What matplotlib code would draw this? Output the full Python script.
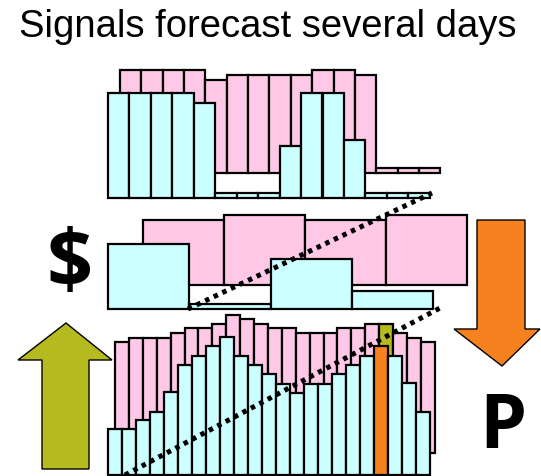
import matplotlib
matplotlib.use("Agg")
import matplotlib.pyplot as plt
from matplotlib.patches import Polygon

PINK = "#FFC8E6"
CYAN = "#CCFFFF"
OLIVE = "#B5BA1F"
ORANGE = "#F5821F"

# top panel: bar heights in pixels
top_cyan = [105, 105, 105, 105, 95, 5, 5, 5, 52, 105, 105, 58, 5, 5, 5]
top_pink = [103, 103, 103, 103, 93, 98, 98, 98, 98, 103, 103, 98, 5, 5, 5]

# middle panel
mid_cyan = [65, 5, 50, 18]
mid_pink = [65, 70, 65, 70]

# bottom panel
bot_cyan = [46, 46, 55, 63, 83, 110, 119, 129, 138, 119, 110, 101,
            91, 82, 91, 91, 101, 110, 119, 129, 119, 92, 63]
bot_pink = [111, 115, 115, 115, 120, 125, 125, 129, 138, 134, 129, 125,
            125, 120, 120, 120, 125, 125, 129, 129, 120, 115, 111]
highlight = 19

title = "Signals forecast several days"


def bars(ax, x0, width, base, values, color, colors=None):
    xs = [x0 + i * width for i in range(len(values))]
    ax.bar(xs, [-v for v in values], bottom=base, width=width, align="edge",
           color=colors if colors else color, edgecolor="black", linewidth=1.6)


fig = plt.figure(figsize=(5.41, 4.76), dpi=100)
ax = fig.add_axes([0, 0, 1, 1])
ax.set_xlim(0, 541)
ax.set_ylim(476, 0)
ax.axis("off")

# top
bars(ax, 120, 21.35, 173, top_pink, PINK)
bars(ax, 108, 21.45, 198, top_cyan, CYAN)

# middle
bars(ax, 143, 81, 285, mid_pink, PINK)
bars(ax, 108, 81.25, 309, mid_cyan, CYAN)

# bottom
pink_cols = [OLIVE if i == highlight else PINK for i in range(len(bot_pink))]
cyan_cols = [ORANGE if i == highlight else CYAN for i in range(len(bot_cyan))]
bars(ax, 115, 13.9, 453, bot_pink, PINK, pink_cols)
bars(ax, 108, 14.0, 475, bot_cyan, CYAN, cyan_cols)

# dotted trend lines
ax.plot([188, 432], [309, 193], color="black", lw=3.6, ls=(0, (0.9, 1.0)))
ax.plot([125, 440], [475, 308], color="black", lw=3.6, ls=(0, (0.9, 1.0)))

# arrows
ax.add_patch(Polygon([(66, 323), (112, 360), (89, 360), (89, 469), (42, 469),
                      (42, 360), (18, 360)], closed=True, facecolor=OLIVE,
                     edgecolor="black", linewidth=1))
ax.add_patch(Polygon([(477, 220), (525, 220), (525, 329), (540, 329), (502, 366),
                      (454, 329), (477, 329)], closed=True, facecolor=ORANGE,
                     edgecolor="black", linewidth=1))

ax.text(268, 27, title, ha="center", va="center", fontsize=27.5,
        family="Liberation Sans")
ax.text(70, 266, "$", ha="center", va="center", fontsize=58,
        family="Open Sans", weight="bold")
ax.text(503, 429, "P", ha="center", va="center", fontsize=54,
        family="Open Sans", weight="bold")

fig.savefig("out.png", dpi=100)
